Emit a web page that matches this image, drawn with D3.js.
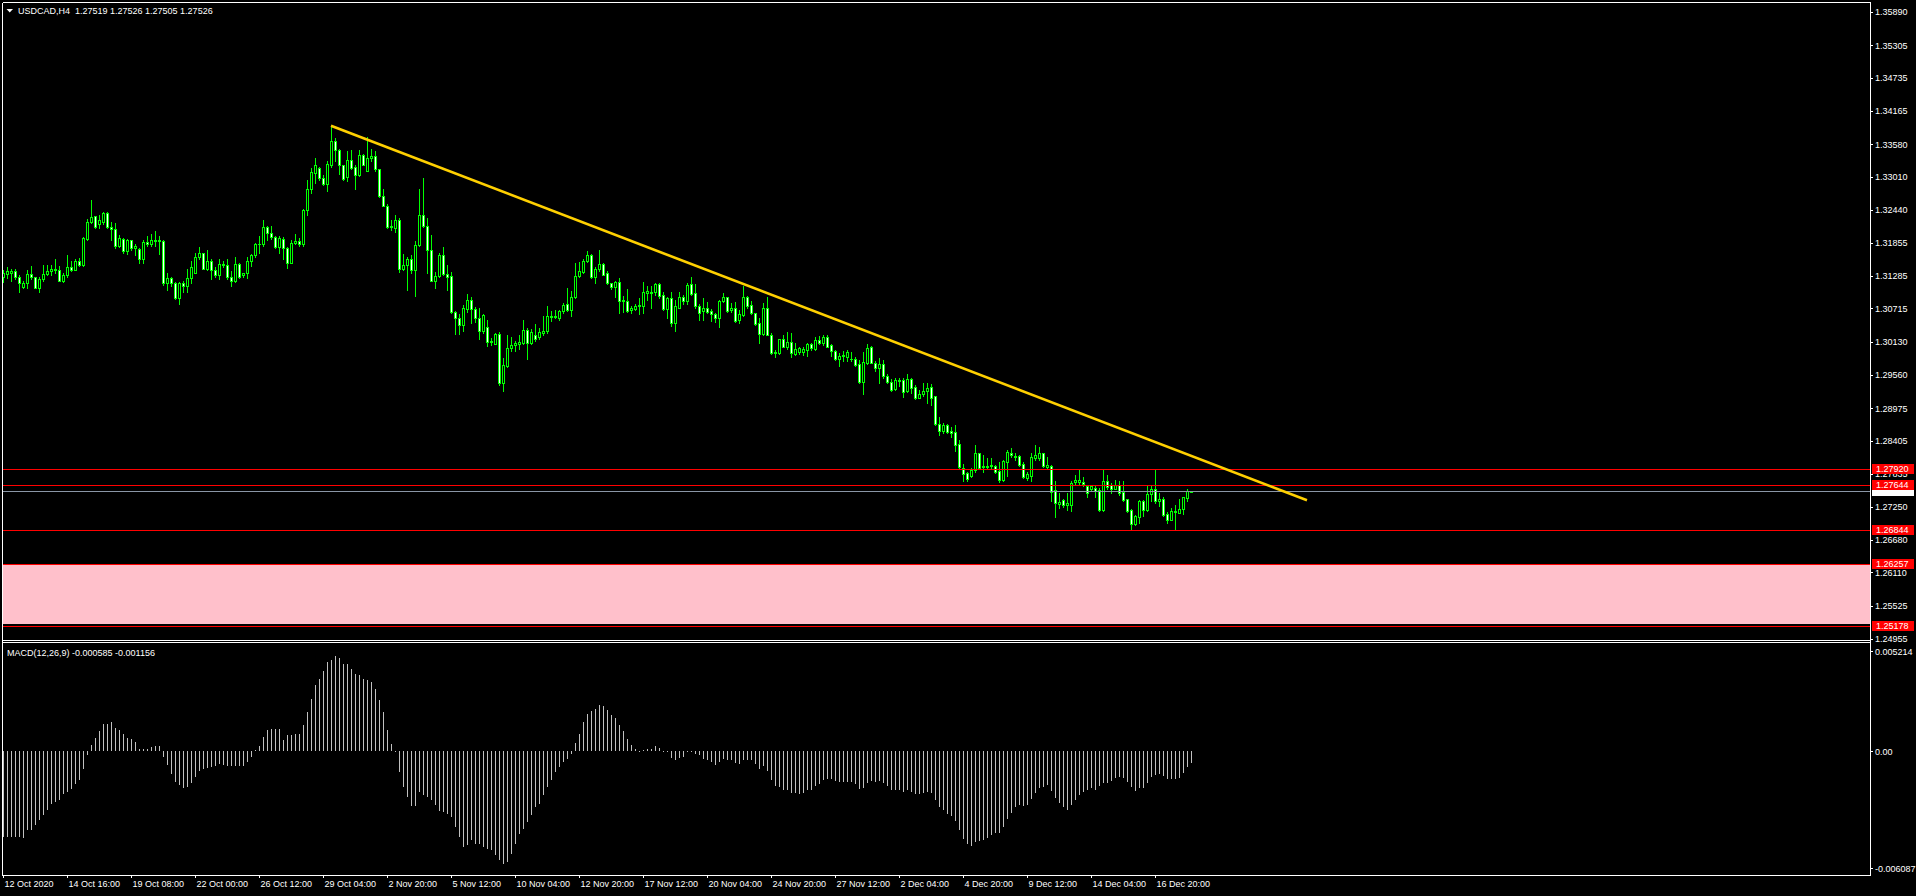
<!DOCTYPE html>
<html><head><meta charset="utf-8">
<script src="https://cdn.jsdelivr.net/npm/d3@7"></script>
<style>
html,body{margin:0;padding:0;background:#000;overflow:hidden}
svg{display:block}
text{font-family:"Liberation Sans",Arial,sans-serif;font-size:9px;fill:#fff}
</style></head><body>
<svg id="c" width="1916" height="896"></svg>
<script>
const symbolTitle = "USDCAD,H4  1.27519 1.27526 1.27505 1.27526";
const macdTitle = "MACD(12,26,9) -0.000585 -0.001156";

const openP = [1.3126,1.3131,1.3133,1.3137,1.3126,1.3109,1.3115,1.3132,1.3126,1.3107,
1.3123,1.3131,1.3136,1.3140,1.3139,1.3120,1.3129,1.3144,1.3138,1.3154,
1.3148,1.3193,1.3222,1.3232,1.3219,1.3223,1.3238,1.3214,1.3210,1.3180,
1.3193,1.3171,1.3190,1.3177,1.3176,1.3157,1.3187,1.3184,1.3191,1.3189,
1.3189,1.3115,1.3125,1.3116,1.3089,1.3116,1.3110,1.3124,1.3134,1.3161,
1.3168,1.3141,1.3155,1.3138,1.3130,1.3149,1.3147,1.3127,1.3119,1.3149,
1.3130,1.3133,1.3154,1.3165,1.3183,1.3184,1.3214,1.3203,1.3196,1.3178,
1.3193,1.3177,1.3151,1.3186,1.3189,1.3184,1.3243,1.3280,1.3307,1.3316,
1.3299,1.3289,1.3322,1.3363,1.3348,1.3321,1.3300,1.3331,1.3318,1.3304,
1.3339,1.3312,1.3333,1.3337,1.3314,1.3267,1.3251,1.3213,1.3211,1.3226,
1.3141,1.3147,1.3157,1.3139,1.3182,1.3235,1.3215,1.3174,1.3120,1.3128,
1.3164,1.3132,1.3128,1.3066,1.3055,1.3043,1.3071,1.3087,1.3071,1.3054,
1.3032,1.3039,1.3013,1.3010,1.3027,1.2941,1.2971,1.3003,1.3008,1.3010,
1.3011,1.3034,1.3011,1.3025,1.3021,1.3029,1.3032,1.3058,1.3056,1.3054,
1.3067,1.3079,1.3068,1.3091,1.3128,1.3135,1.3155,1.3164,1.3126,1.3140,
1.3149,1.3134,1.3115,1.3108,1.3117,1.3085,1.3085,1.3068,1.3071,1.3075,
1.3076,1.3099,1.3101,1.3100,1.3114,1.3095,1.3071,1.3089,1.3046,1.3073,
1.3092,1.3085,1.3114,1.3098,1.3076,1.3067,1.3073,1.3067,1.3062,1.3054,
1.3084,1.3091,1.3068,1.3073,1.3051,1.3060,1.3091,1.3077,1.3063,1.3046,
1.3027,1.3073,1.3026,1.2993,1.2993,1.3018,1.3004,1.3013,1.2992,1.2996,
1.2995,1.2999,1.3009,1.3000,1.3017,1.3012,1.3021,1.3007,1.2997,1.2983,
1.2989,1.2987,1.2984,1.2983,1.2975,1.2944,1.2977,1.3004,1.2977,1.2967,
1.2975,1.2953,1.2943,1.2931,1.2947,1.2947,1.2927,1.2948,1.2934,1.2916,
1.2922,1.2927,1.2934,1.2918,1.2870,1.2857,1.2868,1.2858,1.2856,1.2835,
1.2793,1.2784,1.2779,1.2789,1.2819,1.2795,1.2795,1.2796,1.2797,1.2788,
1.2772,1.2804,1.2819,1.2814,1.2814,1.2800,1.2776,1.2780,1.2811,1.2810,
1.2819,1.2795,1.2797,1.2755,1.2731,1.2737,1.2729,1.2729,1.2768,1.2768,
1.2769,1.2761,1.2757,1.2758,1.2755,1.2720,1.2771,1.2763,1.2757,1.2764,
1.2752,1.2739,1.2720,1.2696,1.2707,1.2736,1.2720,1.2747,1.2756,1.2736,
1.2739,1.2713,1.2703,1.2718,1.2715,1.2722,1.2741,1.27519];

const highP = [1.3139,1.3144,1.3141,1.3141,1.3130,1.3120,1.3139,1.3146,1.3127,1.3127,
1.3148,1.3147,1.3148,1.3158,1.3145,1.3134,1.3165,1.3155,1.3158,1.3160,
1.3196,1.3227,1.3261,1.3233,1.3234,1.3239,1.3239,1.3223,1.3220,1.3200,
1.3194,1.3193,1.3191,1.3183,1.3177,1.3190,1.3198,1.3202,1.3206,1.3198,
1.3190,1.3133,1.3127,1.3117,1.3118,1.3119,1.3140,1.3154,1.3169,1.3178,
1.3169,1.3174,1.3158,1.3144,1.3158,1.3155,1.3158,1.3136,1.3161,1.3151,
1.3134,1.3161,1.3167,1.3186,1.3198,1.3226,1.3216,1.3215,1.3197,1.3198,
1.3196,1.3178,1.3191,1.3202,1.3194,1.3245,1.3296,1.3316,1.3333,1.3319,
1.3305,1.3329,1.3390,1.3369,1.3350,1.3322,1.3346,1.3347,1.3322,1.3348,
1.3341,1.3370,1.3349,1.3346,1.3315,1.3280,1.3254,1.3225,1.3234,1.3230,
1.3167,1.3161,1.3165,1.3189,1.3279,1.3299,1.3230,1.3199,1.3135,1.3168,
1.3178,1.3147,1.3135,1.3067,1.3062,1.3077,1.3096,1.3091,1.3074,1.3072,
1.3062,1.3052,1.3020,1.3029,1.3031,1.2985,1.3025,1.3021,1.3015,1.3026,
1.3052,1.3038,1.3036,1.3045,1.3038,1.3058,1.3075,1.3067,1.3069,1.3069,
1.3081,1.3107,1.3102,1.3151,1.3153,1.3157,1.3171,1.3167,1.3143,1.3173,
1.3151,1.3136,1.3116,1.3120,1.3124,1.3093,1.3105,1.3076,1.3079,1.3089,
1.3118,1.3111,1.3110,1.3116,1.3116,1.3101,1.3092,1.3100,1.3087,1.3101,
1.3095,1.3116,1.3126,1.3114,1.3079,1.3089,1.3083,1.3070,1.3064,1.3086,
1.3098,1.3092,1.3081,1.3082,1.3068,1.3111,1.3093,1.3085,1.3064,1.3054,
1.3081,1.3092,1.3028,1.2999,1.3019,1.3025,1.3030,1.3028,1.3011,1.3005,
1.3004,1.3012,1.3011,1.3022,1.3024,1.3025,1.3025,1.3010,1.2999,1.2993,
1.2998,1.2999,1.2996,1.2986,1.2982,1.2996,1.3010,1.3006,1.2980,1.2985,
1.2982,1.2958,1.2948,1.2951,1.2950,1.2950,1.2958,1.2950,1.2938,1.2929,
1.2941,1.2941,1.2940,1.2919,1.2882,1.2871,1.2870,1.2865,1.2868,1.2842,
1.2800,1.2787,1.2793,1.2834,1.2820,1.2816,1.2810,1.2810,1.2799,1.2804,
1.2807,1.2824,1.2828,1.2820,1.2816,1.2803,1.2787,1.2820,1.2834,1.2830,
1.2820,1.2813,1.2799,1.2770,1.2749,1.2740,1.2749,1.2770,1.2781,1.2792,
1.2777,1.2764,1.2764,1.2762,1.2758,1.2790,1.2781,1.2767,1.2772,1.2770,
1.2770,1.2740,1.2721,1.2711,1.2738,1.2738,1.2764,1.2764,1.2790,1.2750,
1.2743,1.2717,1.2723,1.2729,1.2739,1.2743,1.2756,1.27526];

const lowP = [1.3117,1.3125,1.3119,1.3122,1.3101,1.3107,1.3107,1.3122,1.3107,1.3100,
1.3120,1.3129,1.3130,1.3133,1.3119,1.3117,1.3126,1.3136,1.3138,1.3145,
1.3146,1.3191,1.3221,1.3211,1.3211,1.3218,1.3212,1.3191,1.3177,1.3178,
1.3169,1.3167,1.3174,1.3164,1.3150,1.3150,1.3180,1.3180,1.3180,1.3167,
1.3113,1.3104,1.3111,1.3088,1.3080,1.3101,1.3101,1.3116,1.3133,1.3157,
1.3140,1.3138,1.3123,1.3127,1.3123,1.3144,1.3123,1.3110,1.3117,1.3124,
1.3127,1.3124,1.3145,1.3161,1.3169,1.3180,1.3191,1.3193,1.3177,1.3168,
1.3157,1.3142,1.3150,1.3183,1.3180,1.3180,1.3235,1.3273,1.3290,1.3296,
1.3287,1.3277,1.3319,1.3328,1.3306,1.3296,1.3293,1.3314,1.3279,1.3302,
1.3321,1.3311,1.3329,1.3312,1.3265,1.3250,1.3212,1.3209,1.3205,1.3135,
1.3139,1.3103,1.3133,1.3094,1.3180,1.3213,1.3133,1.3119,1.3107,1.3126,
1.3129,1.3103,1.3064,1.3027,1.3027,1.3032,1.3066,1.3046,1.3048,1.3019,
1.3029,1.3006,1.3007,1.3009,1.2938,1.2928,1.2970,1.2998,1.2998,1.3000,
1.3009,1.2984,1.3010,1.3015,1.3019,1.3025,1.3029,1.3049,1.3054,1.3052,
1.3064,1.3067,1.3058,1.3090,1.3126,1.3133,1.3153,1.3125,1.3115,1.3136,
1.3129,1.3114,1.3105,1.3091,1.3064,1.3066,1.3066,1.3064,1.3069,1.3062,
1.3063,1.3086,1.3072,1.3095,1.3089,1.3069,1.3054,1.3040,1.3033,1.3072,
1.3080,1.3079,1.3095,1.3073,1.3051,1.3051,1.3063,1.3050,1.3047,1.3039,
1.3082,1.3066,1.3066,1.3047,1.3046,1.3058,1.3072,1.3062,1.3043,1.3011,
1.3025,1.3025,1.2992,1.2987,1.2992,1.3004,1.3000,1.2986,1.2991,1.2992,
1.2991,1.2989,1.2999,1.2999,1.3010,1.3008,1.3004,1.2989,1.2982,1.2971,
1.2980,1.2980,1.2980,1.2971,1.2942,1.2922,1.2975,1.2976,1.2963,1.2942,
1.2951,1.2941,1.2928,1.2929,1.2936,1.2917,1.2926,1.2924,1.2913,1.2915,
1.2918,1.2907,1.2903,1.2868,1.2851,1.2855,1.2855,1.2847,1.2822,1.2791,
1.2771,1.2771,1.2777,1.2787,1.2791,1.2787,1.2791,1.2793,1.2785,1.2768,
1.2771,1.2779,1.2813,1.2808,1.2797,1.2775,1.2772,1.2770,1.2808,1.2808,
1.2795,1.2791,1.2735,1.2707,1.2723,1.2725,1.2720,1.2719,1.2766,1.2766,
1.2761,1.2743,1.2754,1.2743,1.2719,1.2719,1.2756,1.2749,1.2756,1.2746,
1.2736,1.2717,1.2687,1.2694,1.2698,1.2709,1.2719,1.2736,1.2733,1.2727,
1.2710,1.2698,1.2702,1.2687,1.2714,1.2713,1.2736,1.27505];

const closeP = [1.3134,1.3136,1.3137,1.3126,1.3115,1.3116,1.3132,1.3127,1.3107,1.3123,
1.3132,1.3137,1.3141,1.3138,1.3120,1.3130,1.3144,1.3139,1.3154,1.3147,
1.3194,1.3222,1.3231,1.3213,1.3225,1.3238,1.3213,1.3210,1.3180,1.3194,
1.3171,1.3190,1.3177,1.3180,1.3157,1.3187,1.3184,1.3191,1.3189,1.3190,
1.3115,1.3125,1.3115,1.3090,1.3116,1.3110,1.3125,1.3144,1.3161,1.3168,
1.3141,1.3155,1.3138,1.3130,1.3149,1.3147,1.3126,1.3119,1.3149,1.3126,
1.3133,1.3155,1.3165,1.3184,1.3184,1.3214,1.3203,1.3196,1.3178,1.3195,
1.3177,1.3151,1.3186,1.3189,1.3184,1.3244,1.3280,1.3309,1.3321,1.3299,
1.3289,1.3323,1.3363,1.3348,1.3321,1.3298,1.3331,1.3316,1.3304,1.3339,
1.3322,1.3333,1.3337,1.3314,1.3267,1.3251,1.3213,1.3215,1.3226,1.3141,
1.3147,1.3157,1.3139,1.3182,1.3234,1.3215,1.3174,1.3120,1.3128,1.3164,
1.3132,1.3126,1.3066,1.3054,1.3042,1.3072,1.3087,1.3071,1.3054,1.3032,
1.3060,1.3013,1.3014,1.3027,1.2941,1.2973,1.3003,1.3008,1.3011,1.3013,
1.3034,1.3011,1.3031,1.3019,1.3031,1.3033,1.3058,1.3056,1.3058,1.3067,
1.3077,1.3068,1.3091,1.3128,1.3136,1.3154,1.3164,1.3126,1.3141,1.3149,
1.3130,1.3115,1.3108,1.3117,1.3085,1.3086,1.3067,1.3072,1.3076,1.3078,
1.3100,1.3102,1.3098,1.3114,1.3093,1.3071,1.3089,1.3046,1.3075,1.3092,
1.3085,1.3112,1.3097,1.3075,1.3064,1.3073,1.3065,1.3062,1.3055,1.3084,
1.3091,1.3067,1.3073,1.3050,1.3062,1.3091,1.3075,1.3063,1.3044,1.3027,
1.3073,1.3025,1.2993,1.2996,1.3018,1.3005,1.3013,1.2993,1.3000,1.3002,
1.3001,1.3009,1.3002,1.3017,1.3011,1.3021,1.3005,1.2997,1.2983,1.2989,
1.2990,1.2996,1.2983,1.2973,1.2944,1.2978,1.3002,1.2977,1.2967,1.2975,
1.2953,1.2944,1.2929,1.2947,1.2945,1.2926,1.2948,1.2932,1.2915,1.2922,
1.2927,1.2932,1.2915,1.2870,1.2857,1.2868,1.2856,1.2855,1.2834,1.2795,
1.2783,1.2774,1.2789,1.2819,1.2793,1.2797,1.2797,1.2798,1.2787,1.2772,
1.2806,1.2821,1.2816,1.2812,1.2799,1.2777,1.2782,1.2813,1.2816,1.2819,
1.2797,1.2799,1.2752,1.2732,1.2734,1.2728,1.2732,1.2767,1.2773,1.2773,
1.2766,1.2750,1.2761,1.2753,1.2720,1.2771,1.2760,1.2757,1.2764,1.2749,
1.2738,1.2719,1.2696,1.2709,1.2736,1.2720,1.2748,1.2756,1.2735,1.2739,
1.2711,1.2703,1.2719,1.2716,1.2722,1.2742,1.2753,1.27526];

const macdMain = [-0.004462,-0.004462,-0.004462,-0.004462,-0.004462,-0.004496,-0.004114,-0.004080,-0.003854,-0.003594,
-0.003333,-0.003073,-0.002726,-0.002639,-0.002517,-0.002205,-0.002118,-0.001944,-0.001719,-0.001476,
-0.000903,-0.000208,0.000312,0.000712,0.001059,0.001441,0.001441,0.001528,0.001233,0.001094,
0.000885,0.000712,0.000625,0.000486,0.000139,0.000139,0.000139,0.000226,0.000260,0.000260,
-0.000295,-0.000729,-0.001163,-0.001597,-0.001771,-0.001892,-0.001858,-0.001649,-0.001337,-0.001024,
-0.000903,-0.000851,-0.000816,-0.000746,-0.000677,-0.000729,-0.000781,-0.000781,-0.000781,-0.000746,
-0.000746,-0.000556,-0.000295,0.000050,0.000260,0.000746,0.001094,0.001146,0.001180,0.001180,
0.000573,0.000833,0.000833,0.000885,0.000920,0.001354,0.002048,0.002743,0.003437,0.003784,
0.004184,0.004652,0.004739,0.004948,0.004878,0.004531,0.004531,0.004305,0.004010,0.003958,
0.003784,0.003698,0.003611,0.003264,0.002656,0.002048,0.001094,0.000365,0.000040,-0.001076,
-0.001858,-0.002378,-0.002847,-0.002847,-0.002118,-0.002292,-0.002378,-0.002552,-0.002812,-0.003107,
-0.003160,-0.003246,-0.003420,-0.003941,-0.004462,-0.004982,-0.004896,-0.004635,-0.004809,-0.004843,
-0.004982,-0.005069,-0.005156,-0.005416,-0.005677,-0.005850,-0.005764,-0.005330,-0.004809,-0.004288,
-0.004028,-0.003680,-0.003333,-0.002899,-0.002726,-0.002292,-0.001858,-0.001510,-0.001076,-0.000816,
-0.000556,-0.000382,-0.000156,0.000434,0.000920,0.001528,0.001962,0.002083,0.002222,0.002396,
0.002344,0.002135,0.001875,0.001753,0.001354,0.001042,0.000625,0.000312,0.000104,0.000020,
0.000052,0.000104,0.000104,0.000260,0.000191,0.000020,-0.000020,-0.000347,-0.000434,-0.000330,
-0.000295,-0.000052,-0.000052,-0.000122,-0.000208,-0.000382,-0.000469,-0.000556,-0.000729,-0.000556,
-0.000382,-0.000469,-0.000469,-0.000608,-0.000642,-0.000469,-0.000434,-0.000469,-0.000677,-0.000937,
-0.000781,-0.001042,-0.001510,-0.001805,-0.001858,-0.002031,-0.002031,-0.002170,-0.002170,-0.002239,
-0.002170,-0.002031,-0.001996,-0.001823,-0.001719,-0.001510,-0.001458,-0.001458,-0.001545,-0.001597,
-0.001597,-0.001597,-0.001597,-0.001719,-0.001944,-0.001892,-0.001632,-0.001545,-0.001597,-0.001545,
-0.001649,-0.001805,-0.002031,-0.002031,-0.002031,-0.002118,-0.001996,-0.002118,-0.002239,-0.002205,
-0.002170,-0.002118,-0.002170,-0.002552,-0.002899,-0.003073,-0.003246,-0.003385,-0.003628,-0.004114,
-0.004548,-0.004843,-0.004948,-0.004722,-0.004687,-0.004635,-0.004514,-0.004375,-0.004253,-0.004253,
-0.003941,-0.003507,-0.003212,-0.002899,-0.002812,-0.002847,-0.002812,-0.002465,-0.002170,-0.001910,
-0.001858,-0.001771,-0.002066,-0.002430,-0.002691,-0.002899,-0.003038,-0.002778,-0.002517,-0.002292,
-0.002118,-0.001996,-0.001892,-0.002031,-0.001823,-0.001649,-0.001649,-0.001545,-0.001371,-0.001337,
-0.001389,-0.001597,-0.001858,-0.002066,-0.001892,-0.001892,-0.001649,-0.001337,-0.001250,-0.001198,
-0.001302,-0.001441,-0.001441,-0.001441,-0.001371,-0.001128,-0.000816,-0.000585];

const timeLabels = ["12 Oct 2020","14 Oct 16:00","19 Oct 08:00","22 Oct 00:00","26 Oct 12:00",
"29 Oct 04:00","2 Nov 20:00","5 Nov 12:00","10 Nov 04:00","12 Nov 20:00","17 Nov 12:00",
"20 Nov 04:00","24 Nov 20:00","27 Nov 12:00","2 Dec 04:00","4 Dec 20:00","9 Dec 12:00",
"14 Dec 04:00","16 Dec 20:00"];
const barsPerTimeLabel = 16;

const priceTicks = [1.35890,1.35305,1.34735,1.34165,1.33580,1.33010,1.32440,1.31855,1.31285,
1.30715,1.30130,1.29560,1.28975,1.28405,1.27835,1.27250,1.26680,1.26110,1.25525,1.24955];
const macdTicks = [0.005214, 0, -0.006087];
const macdTickLabels = ["0.005214", "0.00", "-0.006087"];

const redLevels = [1.27920, 1.27644, 1.26844, 1.26257, 1.25178];
const pinkZone = [1.26257, 1.25205];
const bidPrice = 1.27526;
const trendBars = [82, 326];
const trendPrices = [1.3390, 1.2737];

// ---------- layout ----------
const W = 1916, H = 896;
const left = 2, right = 1870;
const mainTop = 2, mainBottom = 640;
const macdTop = 642, macdBottom = 875;

const svg = d3.select("#c");
svg.append("rect").attr("width", W).attr("height", H).attr("fill", "#000");

const x = d3.scaleLinear().domain([0, 288]).range([3, 1155]);
const yP = d3.scaleLinear().domain([1.24955, 1.35890]).range([638.7, 11.7]);
const yM = d3.scaleLinear().domain([-0.006087, 0.005214]).range([868.3, 651.3]);

const defs = svg.append("defs");
defs.append("clipPath").attr("id", "clipMain").append("rect")
  .attr("x", left + 1).attr("y", mainTop + 1)
  .attr("width", right - left - 1).attr("height", mainBottom - mainTop - 1);
defs.append("clipPath").attr("id", "clipMacd").append("rect")
  .attr("x", left + 1).attr("y", macdTop + 1)
  .attr("width", right - left - 1).attr("height", macdBottom - macdTop - 1);

const bars = d3.range(openP.length).map(i => ({
  i, o: openP[i], h: Math.max(highP[i], openP[i], closeP[i]),
  l: Math.min(lowP[i], openP[i], closeP[i]), c: closeP[i]
}));

// ---------- main panel objects behind ----------
const gMain = svg.append("g").attr("clip-path", "url(#clipMain)").attr("shape-rendering", "crispEdges");

gMain.append("rect")
  .attr("x", left).attr("width", right - left)
  .attr("y", Math.round(yP(pinkZone[0])))
  .attr("height", Math.round(yP(pinkZone[1])) - Math.round(yP(pinkZone[0])))
  .attr("fill", "#FFC0CB");

// candles
const gC = gMain.append("g");
bars.forEach(b => {
  const cx = Math.round(x(b.i));
  const yh = Math.round(yP(b.h)), yl = Math.round(yP(b.l));
  gC.append("rect").attr("x", cx).attr("y", yh).attr("width", 1)
    .attr("height", Math.max(1, yl - yh + 1)).attr("fill", "#00FF00");
  const top = Math.round(yP(Math.max(b.o, b.c))), bot = Math.round(yP(Math.min(b.o, b.c)));
  gC.append("rect").attr("x", cx - 1).attr("y", top).attr("width", 3)
    .attr("height", Math.max(1, bot - top + 1)).attr("fill", "#00FF00");
  if (bot - top >= 2) {
    gC.append("rect").attr("x", cx).attr("y", top + 1).attr("width", 1)
      .attr("height", bot - top - 1).attr("fill", b.c > b.o ? "#000" : "#fff");
  }
});

// horizontal levels
redLevels.forEach(v => {
  gMain.append("line").attr("x1", left).attr("x2", right)
    .attr("y1", Math.round(yP(v)) + 0.5).attr("y2", Math.round(yP(v)) + 0.5)
    .attr("stroke", "#FF0000").attr("stroke-width", 1);
});
gMain.append("line").attr("x1", left).attr("x2", right)
  .attr("y1", Math.round(yP(bidPrice)) + 0.5).attr("y2", Math.round(yP(bidPrice)) + 0.5)
  .attr("stroke", "#8A96A6").attr("stroke-width", 1);

// trend line
svg.append("g").attr("clip-path", "url(#clipMain)").append("line")
  .attr("x1", x(trendBars[0])).attr("y1", yP(trendPrices[0]))
  .attr("x2", x(trendBars[1])).attr("y2", yP(trendPrices[1]))
  .attr("stroke", "#FFD000").attr("stroke-width", 2.6);

// ---------- MACD ----------
const gM = svg.append("g").attr("clip-path", "url(#clipMacd)").attr("shape-rendering", "crispEdges");
const y0 = Math.round(yM(0));
macdMain.forEach((v, i) => {
  const cx = Math.round(x(i));
  const yv = Math.round(yM(v));
  gM.append("rect").attr("x", cx).attr("y", Math.min(y0, yv)).attr("width", 1)
    .attr("height", Math.max(1, Math.abs(yv - y0))).attr("fill", "#C0C0C0");
});

// ---------- frames ----------
const gF = svg.append("g").attr("stroke", "#fff").attr("stroke-width", 1).attr("shape-rendering", "crispEdges");
[[left, mainTop, right, mainTop], [left, mainBottom, right, mainBottom],
 [left, macdTop, right, macdTop], [left, macdBottom, right, macdBottom],
 [left, mainTop, left, macdBottom], [right, mainTop, right, macdBottom]].forEach(s => {
  gF.append("line").attr("x1", s[0] + 0.5).attr("y1", s[1] + 0.5).attr("x2", s[2] + 0.5).attr("y2", s[3] + 0.5);
});

// ---------- axes ----------
const axPrice = svg.append("g").attr("transform", `translate(${right},0)`).style("color", "#fff")
  .call(d3.axisRight(yP).tickValues(priceTicks).tickFormat(d3.format(".5f")).tickSize(3).tickPadding(2));
const axMacd = svg.append("g").attr("transform", `translate(${right},0)`).style("color", "#fff")
  .call(d3.axisRight(yM).tickValues(macdTicks).tickFormat((d, k) => macdTickLabels[k]).tickSize(3).tickPadding(2));
const axTime = svg.append("g").attr("transform", `translate(0,${macdBottom})`).style("color", "#fff")
  .call(d3.axisBottom(x).tickValues(timeLabels.map((_, k) => k * barsPerTimeLabel))
    .tickFormat((d, k) => timeLabels[k]).tickSize(3).tickPadding(3));
[axPrice, axMacd, axTime].forEach(a => {
  a.select(".domain").remove();
  a.selectAll("text").attr("font-family", null).attr("font-size", null).attr("fill", "#fff");
  a.selectAll("line").attr("shape-rendering", "crispEdges");
});
axTime.selectAll("text").attr("text-anchor", "start").attr("x", 1);

// level price boxes on the right axis
const gBox = svg.append("g");
function priceBox(v, bg, fg) {
  const yy = Math.round(yP(v));
  gBox.append("rect").attr("x", right + 2).attr("y", yy - 5).attr("width", 42).attr("height", 10).attr("fill", bg);
  gBox.append("text").attr("x", right + 6).attr("y", yy).attr("dy", "0.33em").attr("fill", fg).text(d3.format(".5f")(v));
}
priceBox(bidPrice, "#FFFFFF", "#000");
redLevels.forEach(v => priceBox(v, "#FF0000", "#000"));

// ---------- titles ----------
svg.append("path").attr("d", "M6.5,9 L13,9 L9.75,12.5 Z").attr("fill", "#fff");
svg.append("text").attr("x", 18).attr("y", 14).style("white-space", "pre").text(symbolTitle);
svg.append("text").attr("x", 7).attr("y", 656).text(macdTitle);
</script>
</body></html>
